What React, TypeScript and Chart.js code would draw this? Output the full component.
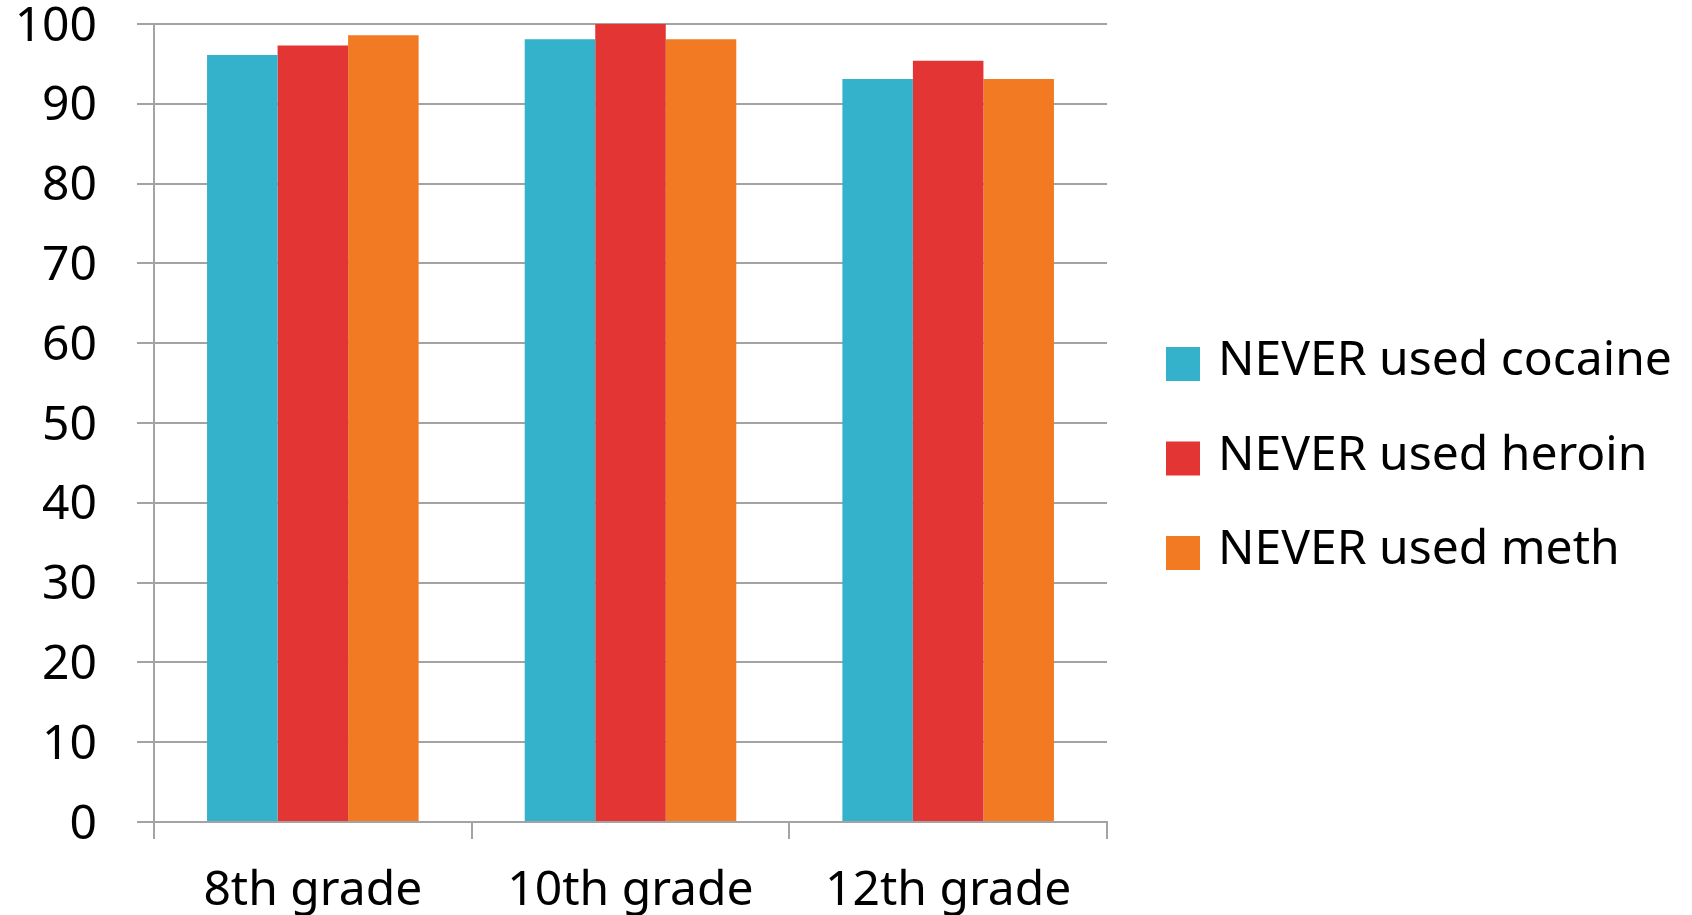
import React, { useEffect, useRef } from "react";
import { Chart, registerables } from "chart.js";

Chart.register(...registerables);

const categories = ["8th grade", "10th grade", "12th grade"];
const seriesLabels = ["NEVER used cocaine", "NEVER used heroin", "NEVER used meth"];
const cocaine = [96.1, 98.1, 93.1];
const heroin = [97.3, 100, 95.4];
const meth = [98.6, 98.1, 93.1];
const yTicks = [0, 10, 20, 30, 40, 50, 60, 70, 80, 90, 100];

const colors = ["#34B1CB", "#E43535", "#F27A23"];
const gridColor = "#A3A3A3";
const FONT = "'Noto Sans', 'DejaVu Sans', sans-serif";

const legendPlugin = {
  id: "sideLegend",
  afterDraw(chart: any) {
    const ctx = chart.ctx;
    const boxX = 1166;
    const textX = 1218;
    const rowCenters = [364, 458.5, 553];
    ctx.save();
    ctx.font = `48px ${FONT}`;
    ctx.textAlign = "left";
    ctx.textBaseline = "alphabetic";
    chart.data.datasets.forEach((ds: any, i: number) => {
      const cy = rowCenters[i];
      ctx.fillStyle = ds.backgroundColor;
      ctx.fillRect(boxX, cy - 17, 34, 34);
      ctx.fillStyle = "#000";
      ctx.fillText(ds.label, textX, cy + 11);
    });
    ctx.restore();
  },
};

export default function App() {
  const ref = useRef<HTMLCanvasElement | null>(null);

  useEffect(() => {
    if (!ref.current) return;
    const chart = new Chart(ref.current, {
      type: "bar",
      data: {
        labels: categories,
        datasets: [cocaine, heroin, meth].map((d, i) => ({
          label: seriesLabels[i],
          data: d,
          backgroundColor: colors[i],
          borderWidth: 0,
          categoryPercentage: 0.666,
          barPercentage: 1,
        })),
      },
      options: {
        animation: false,
        responsive: false,
        devicePixelRatio: 1,
        layout: { padding: { left: 0, top: 24, right: 585, bottom: 0 } },
        plugins: {
          legend: { display: false },
          tooltip: { enabled: false },
        },
        scales: {
          x: {
            grid: {
              display: true,
              drawOnChartArea: false,
              drawTicks: true,
              tickLength: 17,
              color: gridColor,
              lineWidth: 2,
              offset: true,
            },
            border: { display: true, color: gridColor, width: 2 },
            ticks: {
              color: "#000",
              font: { family: FONT, size: 48, lineHeight: 1.2 },
              padding: 24,
              maxRotation: 0,
              autoSkip: false,
            },
            afterFit(scale: any) {
              scale.height = 93;
              scale.paddingLeft = 0;
              scale.paddingRight = 0;
            },
          },
          y: {
            min: 0,
            max: 100,
            afterBuildTicks(scale: any) {
              scale.ticks = yTicks.map((v) => ({ value: v }));
            },
            grid: {
              color: gridColor,
              lineWidth: 2,
              tickLength: 17,
              drawTicks: true,
            },
            border: { display: true, color: gridColor, width: 2 },
            ticks: {
              color: "#000",
              font: { family: FONT, size: 48, lineHeight: 1.2 },
              padding: 40,
              labelOffset: 3,
            },
            afterFit(scale: any) {
              scale.width = 154;
              scale.paddingTop = 0;
              scale.paddingBottom = 0;
            },
          },
        },
      },
      plugins: [legendPlugin],
    });
    return () => chart.destroy();
  }, []);

  return (
    <div style={{ position: "fixed", left: 0, top: 0, width: 1692, height: 915, background: "#fff" }}>
      <canvas ref={ref} width={1692} height={915} style={{ display: "block", width: 1692, height: 915 }} />
    </div>
  );
}
